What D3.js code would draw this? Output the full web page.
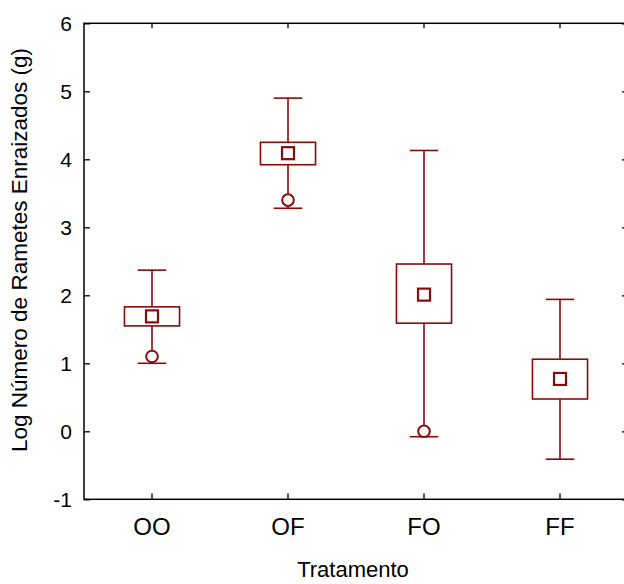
<!DOCTYPE html>
<html>
<head>
<meta charset="utf-8">
<script src="https://cdn.jsdelivr.net/npm/d3@7"></script>
<style>
  body { margin: 0; background: #fff; }
  svg text { font-family: "Liberation Sans", Arial, sans-serif; fill: #000; }
</style>
</head>
<body>
<div id="chart"></div>
<script>
// box plot values
var categories = ["OO", "OF", "FO", "FF"];
var whiskerLow = [1.00, 3.28, -0.08, -0.41];
var boxLow = [1.55, 3.92, 1.59, 0.475];
var means = [1.69, 4.09, 2.01, 0.77];
var boxHigh = [1.83, 4.25, 2.46, 1.06];
var whiskerHigh = [2.37, 4.90, 4.13, 1.94];
var outliers = [1.10, 3.40, 0.00, null];
var yTicks = [-1, 0, 1, 2, 3, 4, 5, 6];

var width = 624, height = 584;
// note: "top" is taken by window.top, so use plot* names
var plotLeft = 84, plotRight = 628, plotTop = 23.3, plotBottom = 499.3;
var red = "#8b0a0a";

var svg = d3.select("#chart").append("svg")
  .attr("width", width)
  .attr("height", height);

var x = d3.scaleBand().domain(categories).range([plotLeft, plotRight]);
var y = d3.scaleLinear().domain([-1, 6]).range([plotBottom, plotTop]);

// axes, ticks pointing inwards
var gl = svg.append("g")
  .attr("transform", "translate(" + plotLeft + ",0)")
  .call(d3.axisLeft(y).tickValues(yTicks).tickSizeInner(-6).tickSizeOuter(0)
    .tickPadding(12).tickFormat(function (d) { return String(d); }));
gl.selectAll("text").style("font-size", "21px").attr("dy", "0.36em");

var gr = svg.append("g")
  .attr("transform", "translate(" + plotRight + ",0)")
  .call(d3.axisRight(y).tickValues(yTicks).tickSizeInner(-6).tickSizeOuter(0).tickFormat(""));

var gb = svg.append("g")
  .attr("transform", "translate(0," + plotBottom + ")")
  .call(d3.axisBottom(x).tickSizeInner(-6).tickSizeOuter(0).tickPadding(19));
gb.selectAll("text").style("font-size", "24px");

var gt = svg.append("g")
  .attr("transform", "translate(0," + plotTop + ")")
  .call(d3.axisTop(x).tickSizeInner(-5).tickSizeOuter(0).tickFormat(""));

svg.selectAll(".domain").remove();
svg.selectAll(".tick line").attr("stroke", "#000").attr("stroke-width", 1.3);

// frame
svg.append("rect")
  .attr("x", plotLeft).attr("y", plotTop)
  .attr("width", plotRight - plotLeft).attr("height", plotBottom - plotTop)
  .attr("fill", "none").attr("stroke", "#000").attr("stroke-width", 1.5);

// boxes
var boxW = x.bandwidth() * 0.405;
var capW = x.bandwidth() * 0.21;
var cx = function (i) { return x(categories[i]) + x.bandwidth() / 2; };

var g = svg.append("g").attr("stroke", red).attr("fill", "none");

categories.forEach(function (c, i) {
  // whisker
  g.append("line")
    .attr("x1", cx(i)).attr("x2", cx(i))
    .attr("y1", y(whiskerLow[i])).attr("y2", y(boxLow[i]))
    .attr("stroke-width", 1.6);
  g.append("line")
    .attr("x1", cx(i)).attr("x2", cx(i))
    .attr("y1", y(boxHigh[i])).attr("y2", y(whiskerHigh[i]))
    .attr("stroke-width", 1.6);
  // caps
  [whiskerLow[i], whiskerHigh[i]].forEach(function (v) {
    g.append("line")
      .attr("x1", cx(i) - capW / 2).attr("x2", cx(i) + capW / 2)
      .attr("y1", y(v)).attr("y2", y(v))
      .attr("stroke-width", 1.6);
  });
  // box
  g.append("rect")
    .attr("x", cx(i) - boxW / 2).attr("y", y(boxHigh[i]))
    .attr("width", boxW).attr("height", y(boxLow[i]) - y(boxHigh[i]))
    .attr("fill", "#fff").attr("stroke-width", 1.6);
  // mean
  g.append("rect")
    .attr("x", cx(i) - 6).attr("y", y(means[i]) - 6)
    .attr("width", 12).attr("height", 12)
    .attr("fill", "#fff").attr("stroke-width", 2.2);
  // outlier
  if (outliers[i] !== null) {
    g.append("circle")
      .attr("cx", cx(i)).attr("cy", y(outliers[i]))
      .attr("r", 5.8)
      .attr("fill", "#fff").attr("stroke-width", 2);
  }
});

// axis titles
svg.append("text")
  .attr("x", 353).attr("y", 577)
  .attr("text-anchor", "middle")
  .style("font-size", "22px")
  .text("Tratamento");

svg.append("text")
  .attr("transform", "translate(27,250) rotate(-90)")
  .attr("text-anchor", "middle")
  .style("font-size", "22.5px")
  .text("Log Número de Rametes Enraizados (g)");
</script>
</body>
</html>
